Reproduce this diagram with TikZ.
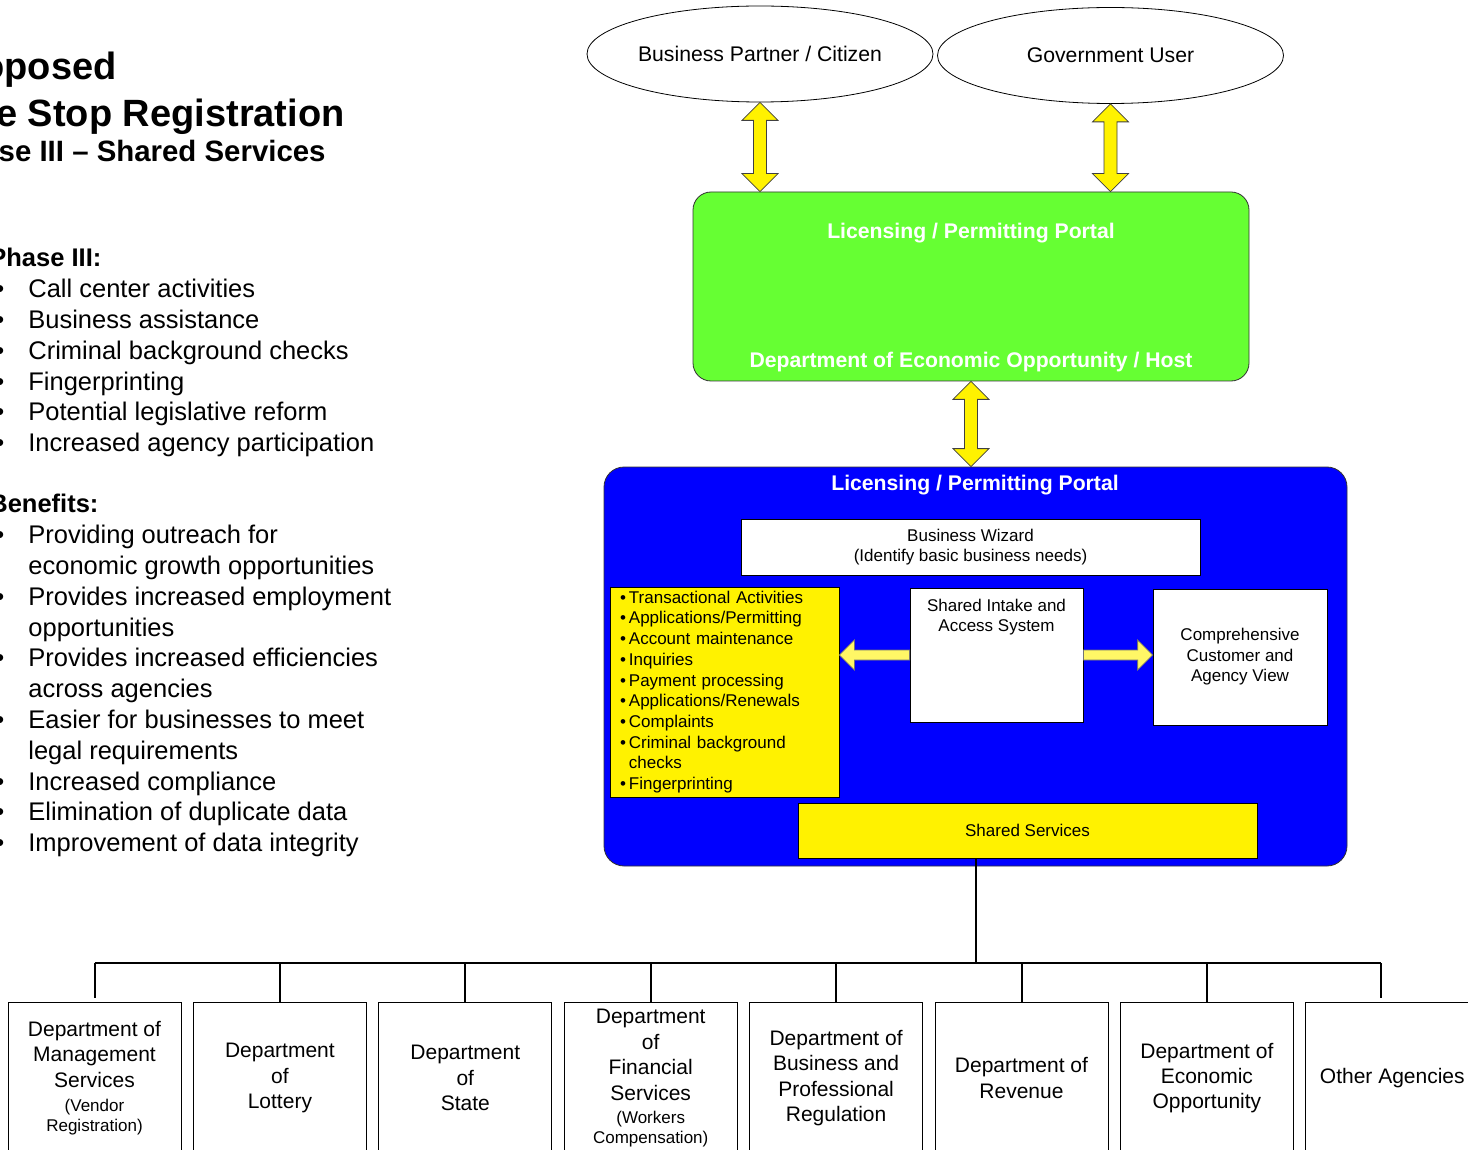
\documentclass[tikz,border=0pt]{standalone}
\usepackage{fontspec}
\setmainfont{Liberation Sans}
\usetikzlibrary{positioning,shapes.geometric,calc}

\definecolor{portalgreen}{HTML}{66FF33}
\definecolor{portalblue}{HTML}{0000FF}

\newcommand{\itm}{\hspace*{3pt}\makebox[16.5pt][l]{\textbullet}}
\newcommand{\cnt}{\hspace*{19.5pt}}
\newcommand{\tb}{\hspace*{1.5pt}\textbullet\hspace{1.5pt}}
\newcommand{\sml}{\fontsize{8.5}{10}\selectfont}

% double block arrow, #1 upper end, #2 lower end
\newcommand{\vblock}[2]{%
  \draw[blockv] let \p1=#1, \p2=#2, \p3=($#1!9pt!#2$), \p4=($#2!9pt!#1$) in
    (\x1,\y1) -- (\x1+9pt,\y3) -- (\x1+3.25pt,\y3) -- (\x1+3.25pt,\y4) -- (\x1+9pt,\y4)
    -- (\x1,\y2) -- (\x1-9pt,\y4) -- (\x1-3.25pt,\y4) -- (\x1-3.25pt,\y3) -- (\x1-9pt,\y3) -- cycle;}
% single block arrow, #1 tail, #2 tip
\newcommand{\hblock}[2]{%
  \draw[blockh] let \p1=#1, \p2=#2, \p3=($#2!7.5pt!#1$) in
    (\x1,\y1+2.5pt) -- (\x3,\y1+2.5pt) -- (\x3,\y1+7.5pt) -- (\x2,\y1)
    -- (\x3,\y1-7.5pt) -- (\x3,\y1-2.5pt) -- (\x1,\y1-2.5pt) -- cycle;}

\begin{document}
\begin{tikzpicture}[x=0.5pt,y=-0.5pt,
  actor/.style={ellipse, draw, inner sep=0pt, minimum width=173pt, minimum height=48pt, font=\fontsize{10.6}{12.7}\selectfont},
  hdr/.style={text=white, font=\bfseries\fontsize{10.6}{12.7}\selectfont},
  wbox/.style={draw, fill=white, inner sep=0pt, align=center, font=\fontsize{8.5}{10.25}\selectfont},
  ybox/.style={draw, fill=yellow, inner sep=0pt, font=\fontsize{8.5}{10.35}\selectfont},
  dept/.style={draw, fill=white, minimum width=86.5pt, minimum height=76pt, inner sep=0pt, align=center, font=\fontsize{10.5}{12.7}\selectfont},
  blockv/.style={draw=black!75, fill=yellow, line width=0.4pt},
  blockh/.style={draw=black!55, fill=yellow!60, line width=0.4pt},
  busline/.style={line width=1pt},
  bullets/.style={align=left, inner sep=0pt, font=\fontsize{12.75}{15.4}\selectfont},
  title/.style={inner sep=0pt, font=\bfseries\fontsize{19}{22}\selectfont},
  subtitle/.style={inner sep=0pt, font=\bfseries\fontsize{14.7}{17}\selectfont}]

  \useasboundingbox (0,0) rectangle (1468,1150);
  \clip (0,0) rectangle (1468,1150);
  \fill[white] (0,0) rectangle (1468,1150);

  % Title
  \node[title, anchor=base east] (t1) at (117,80) {Proposed};
  \node[title, anchor=base east] (t2) at (345,127) {One Stop Registration};
  \node[subtitle, anchor=base east] (t3) at (326,162) {Phase III – Shared Services};

  % Phase III list
  \node[bullets, anchor=north west] (phase) at (-11,248) {\textbf{Phase III:}\\
    \itm Call center activities\\
    \itm Business assistance\\
    \itm Criminal background checks\\
    \itm Fingerprinting\\
    \itm Potential legislative reform\\
    \itm Increased agency participation};

  % Benefits list
  \node[bullets, anchor=north west] (benefits) at (-11,494) {\textbf{Benefits:}\\
    \itm Providing outreach for\\
    \cnt economic growth opportunities\\
    \itm Provides increased employment\\
    \cnt opportunities\\
    \itm Provides increased efficiencies\\
    \cnt across agencies\\
    \itm Easier for businesses to meet\\
    \cnt legal requirements\\
    \itm Increased compliance\\
    \itm Elimination of duplicate data\\
    \itm Improvement of data integrity};

  % Actors
  \node[actor] (bpc) at (760,54) {Business Partner / Citizen};
  \node[actor] (gu) at (1110.5,55.5) {Government User};

  % Host portal
  \node[draw=black!80, fill=portalgreen, rounded corners=9pt, minimum width=278pt, minimum height=94.5pt] (green) at (971,286.5) {};
  \node[hdr] (gtitle) at (971,233) {Licensing / Permitting Portal};
  \node[hdr] (ghost) at (971,362) {Department of Economic Opportunity / Host};

  \vblock{(bpc.south)}{(bpc.south |- green.north)}
  \vblock{(gu.south)}{(gu.south |- green.north)}

  % Shared portal
  \node[draw=black!80, fill=portalblue, rounded corners=10pt, minimum width=371.5pt, minimum height=199.5pt] (blue) at (975.5,666.5) {};
  \node[hdr] (btitle) at (975,485) {Licensing / Permitting Portal};
  \vblock{(green.south)}{(green.south |- blue.north)}

  \node[wbox, minimum width=229.5pt, minimum height=28pt] (wiz) at (970.5,547) {Business Wizard\\(Identify basic business needs)};
  \node[ybox, minimum width=114.5pt, minimum height=105pt, text width=107.5pt, inner xsep=3.5pt, align=left] (tasks) at (724.5,692) {%
    \tb Transactional Activities\\
    \tb Applications/Permitting\\
    \tb Account maintenance\\
    \tb Inquiries\\
    \tb Payment processing\\
    \tb Applications/Renewals\\
    \tb Complaints\\
    \tb Criminal background\\
    \phantom{\tb}checks\\
    \tb Fingerprinting};
  \node[wbox, minimum width=86.5pt, minimum height=67pt] (sia) at (996.5,655) {};
  \node[below=5.5pt of sia.north, inner sep=0pt, align=center, font=\fontsize{8.5}{10.25}\selectfont] (siatext) {Shared Intake and\\Access System};
  \node[wbox, minimum width=87pt, minimum height=68pt] (cav) at (1240,657) {Comprehensive\\Customer and\\Agency View};
  \node[ybox, minimum width=229.5pt, minimum height=27.5pt] (ss) at (1027.5,830.5) {Shared Services};

  \hblock{(sia.west)}{(sia.west -| tasks.east)}
  \hblock{(sia.east)}{(sia.east -| cav.west)}

  % Agencies
  \node[dept] (dms) at (94.5,1078) {Department of\\Management\\Services\\[-0.7pt]\sml(Vendor\\[-2.7pt]\sml Registration)};
  \node[dept, right=5.8pt of dms] (dol) {Department\\of\\Lottery};
  \node[dept, right=5.8pt of dol] (dos) {Department\\of\\State};
  \node[dept, right=5.8pt of dos] (dfs) {Department\\of\\Financial\\Services\\[-1.2pt]\sml(Workers\\[-2.7pt]\sml Compensation)};
  \node[dept, right=5.8pt of dfs] (dbpr) {Department of\\Business and\\Professional\\Regulation};
  \node[dept, right=5.8pt of dbpr] (dor) {Department of\\Revenue};
  \node[dept, right=5.8pt of dor] (deo) {Department of\\Economic\\Opportunity};
  \node[dept, right=5.8pt of deo] (oth) {Other Agencies};

  \coordinate (bus) at (976,963);
  \coordinate (othdrop) at ([xshift=-5.5pt]oth.north);
  \draw[busline] (ss.south -| bus) -- (bus);
  \draw[busline] (dms.north |- bus) -- (othdrop |- bus);
  \draw[busline] (dms.north |- bus) -- ([yshift=2pt]dms.north);
  \draw[busline] (othdrop |- bus) -- ([yshift=2pt]othdrop);
  \foreach \d in {dol,dos,dfs,dbpr,dor,deo}
    \draw[busline] (\d.north |- bus) -- (\d.north);
\end{tikzpicture}
\end{document}
